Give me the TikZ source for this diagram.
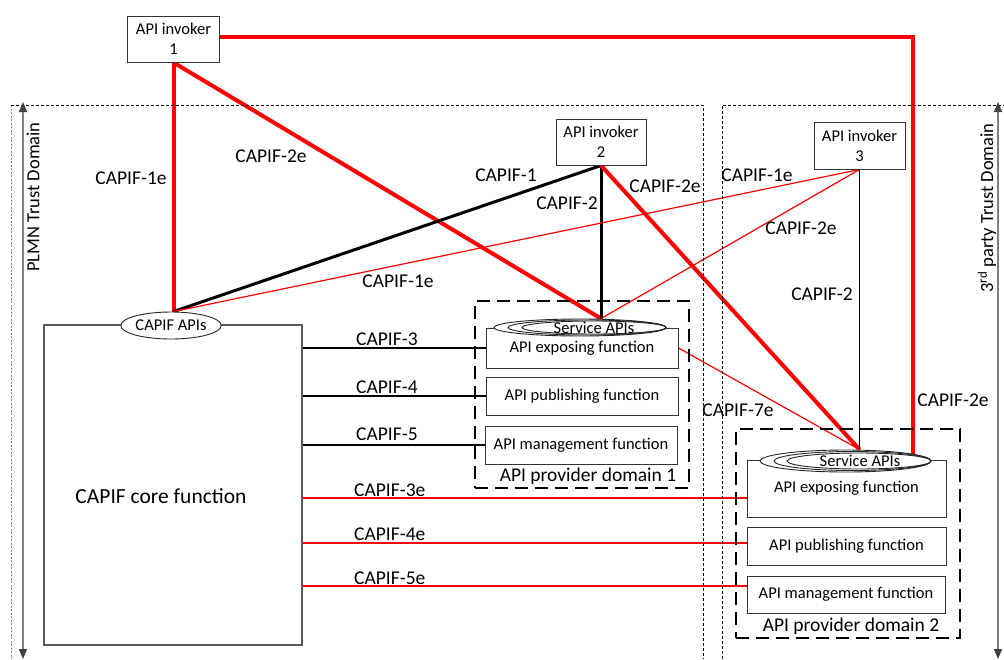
\documentclass[tikz,border=0pt]{standalone}
\usepackage{fontspec}
\setmainfont{Carlito}
\usetikzlibrary{arrows.meta,shapes.geometric}
\pgfdeclarelayer{bg}
\pgfsetlayers{bg,main}
\newcommand{\boxfont}{\fontsize{16.5}{20}\selectfont}
\newcommand{\lblfont}{\fontsize{19.5}{23}\selectfont}
\newcommand{\sidefont}{\fontsize{18.5}{22}\selectfont}
\newcommand{\corefont}{\fontsize{21.5}{25}\selectfont}
\definecolor{capred}{RGB}{255,0,0}
\definecolor{arrowgray}{RGB}{128,128,128}
\definecolor{tipgray}{RGB}{64,64,64}
\definecolor{edgegray}{RGB}{90,90,90}

\begin{document}
\begin{tikzpicture}[x=1pt,y=-1pt,
  fnbox/.style={draw=black!80,line width=1pt,fill=white,inner sep=0pt,font=\boxfont,align=center},
  invoker/.style={fnbox,minimum width=92pt,minimum height=46pt},
  apifn/.style={fnbox,minimum height=38pt},
  svc/.style={draw=black!85,line width=0.9pt,ellipse,inner sep=0pt},
  svctext/.style={font=\boxfont,inner sep=0pt},
  domainbox/.style={draw=black,line width=2.6pt,dash pattern=on 13pt off 7pt,inner sep=0pt},
  trust/.style={draw=black,line width=0.8pt,dash pattern=on 3pt off 2pt},
  lbl/.style={font=\lblfont,inner sep=0pt},
  lftlbl/.style={lbl,anchor=west},
  sidelbl/.style={rotate=90,font=\sidefont,inner sep=0pt},
  redthick/.style={draw=capred,line width=4pt},
  blackthick/.style={draw=black,line width=3pt},
  redthin/.style={draw=capred,line width=1.2pt},
  blackthin/.style={draw=black,line width=1.3pt},
  span/.style={draw=arrowgray,line width=1.3pt,
    {Triangle[length=10pt,width=8pt,color=tipgray]}-{Triangle[length=10pt,width=8pt,color=tipgray]}}
]
\useasboundingbox (0,0) rectangle (1004,659);

% trust domain borders
\draw[trust,draw=gray,dash pattern=on 2pt off 1.5pt] (11,105) -- (11,659);
\draw[trust] (11,105) -- (703,105) -- (703,659);
\draw[trust] (722,659) -- (722,105) -- (1004,105);

% trust domain extents
\coordinate (plmnTop) at (23,102);
\coordinate (plmnBot) at (23,659);
\draw[span] (plmnTop) -- (plmnBot);
\node[sidelbl] (plmnlbl) at (33,197) {PLMN Trust Domain};
\coordinate (tpTop) at (998,102);
\coordinate (tpBot) at (998,659);
\draw[span] (tpTop) -- (tpBot);
\node[sidelbl] (tplbl) at (987,208) {3\textsuperscript{rd} party Trust Domain};

% API invokers
\node[invoker] (inv1) at (173.5,39) {API invoker\\1};
\node[invoker,minimum width=90pt] (inv2) at (601,142) {API invoker\\2};
\node[invoker,minimum width=91pt,minimum height=47pt] (inv3) at (859.5,145.5) {API invoker\\3};

% CAPIF core function
\node[draw=edgegray,line width=1.4pt,minimum width=258pt,minimum height=320pt,inner sep=0pt] (core) at (173,485) {};
\node[font=\corefont,inner sep=0pt] (corelbl) at (161,496) {CAPIF core function};
\node[svc,fill=white,minimum width=100pt,minimum height=27pt,font=\boxfont] (capis) at (171,325.5) {CAPIF APIs};

% API provider domain 1
\node[domainbox,minimum width=214pt,minimum height=187pt] (dom1) at (582,394.5) {};
\node[lbl] (dom1lbl) at (588,476) {API provider domain 1};
\node[apifn,minimum width=192pt,minimum height=40pt] (exp1) at (582,348) {API exposing function};
\node[apifn,minimum width=192pt] (pub1) at (582,396) {API publishing function};
\node[apifn,minimum width=192pt] (mgmt1) at (581,445) {API management function};
\node[svc,fill=white,minimum width=172pt,minimum height=17pt] (sa1) at (580,327.5) {};
\node[svc,minimum width=158pt,minimum height=15pt] (sa1b) at (587,327.5) {};
\node[svc,minimum width=144pt,minimum height=13pt] (sa1c) at (594,327.5) {};
\node[svctext] (sa1lbl) at (594,327.5) {Service APIs};

% API provider domain 2
\node[domainbox,minimum width=224pt,minimum height=209pt] (dom2) at (848,533.5) {};
\node[lbl] (dom2lbl) at (851,626) {API provider domain 2};
\node[apifn,minimum width=199pt,minimum height=57pt] (exp2) at (846.5,488.5) {API exposing function};
\node[apifn,minimum width=199pt] (pub2) at (846.5,546) {API publishing function};
\node[apifn,minimum width=198pt,minimum height=37pt] (mgmt2) at (846,594.5) {API management function};
\node[svc,fill=white,minimum width=171pt,minimum height=22pt] (sa2) at (845.5,461) {};
\node[svc,minimum width=157pt,minimum height=19pt] (sa2b) at (852.5,461) {};
\node[svc,minimum width=144pt,minimum height=16pt] (sa2c) at (859,461) {};
\node[svctext] (sa2lbl) at (860,461) {Service APIs};

% reference points
\begin{pgfonlayer}{bg}
% invoker 1
\draw[redthick] (inv1.south) -- (inv1.south |- capis.north);
\draw[redthick] (inv1.south) -- (inv2.south |- sa1.north);
\draw[redthick] ([yshift=2pt]inv1.east) -| (sa2.6);
% invoker 2
\draw[blackthick] (inv2.south) -- (inv1.south |- capis.north);
\draw[blackthick] (inv2.south) -- (inv2.south |- sa1.north);
\draw[redthick] (inv2.south) -- (inv3.south |- sa2.north);
% invoker 3
\draw[redthin] (inv3.south) -- (inv1.south |- capis.north);
\draw[redthin] (inv3.south) -- (inv2.south |- sa1.north);
\draw[blackthin] (inv3.south) -- (inv3.south |- sa2.north);
% provider domain 1 to provider domain 2
\draw[redthin] (exp1.east) -- (inv3.south |- sa2.north);
% core function to provider domains
\draw[blackthin] (exp1.west -| core.east) -- (exp1.west);
\draw[blackthin] (pub1.west -| core.east) -- (pub1.west);
\draw[blackthin] (mgmt1.west -| core.east) -- (mgmt1.west);
\draw[redthin] ([yshift=-9.5pt]exp2.west -| core.east) -- ([yshift=-9.5pt]exp2.west);
\draw[redthin] ([yshift=3pt]pub2.west -| core.east) -- ([yshift=3pt]pub2.west);
\draw[redthin] ([yshift=8.5pt]mgmt2.west -| core.east) -- ([yshift=8.5pt]mgmt2.west);
\end{pgfonlayer}

% reference point labels
\node[lbl] (l1ea) at (131,178) {CAPIF-1e};
\node[lbl] (l2ea) at (271,156) {CAPIF-2e};
\node[lbl] (l1) at (506,175) {CAPIF-1};
\node[lbl] (l2a) at (567,203) {CAPIF-2};
\node[lbl] (l2eb) at (665,186) {CAPIF-2e};
\node[lbl] (l1eb) at (757,175) {CAPIF-1e};
\node[lbl] (l2ec) at (801,228) {CAPIF-2e};
\node[lbl] (l1ec) at (398,281) {CAPIF-1e};
\node[lbl] (l2b) at (822,294) {CAPIF-2};
\node[lbl] (l7e) at (738,410) {CAPIF-7e};
\node[lbl] (l2ed) at (953,400) {CAPIF-2e};
\node[lftlbl] (l3) at (356,339) {CAPIF-3};
\node[lftlbl] (l4) at (356,387) {CAPIF-4};
\node[lftlbl] (l5) at (356,434) {CAPIF-5};
\node[lftlbl] (l3e) at (354,490) {CAPIF-3e};
\node[lftlbl] (l4e) at (354,534) {CAPIF-4e};
\node[lftlbl] (l5e) at (354,578) {CAPIF-5e};
\end{tikzpicture}
\end{document}
